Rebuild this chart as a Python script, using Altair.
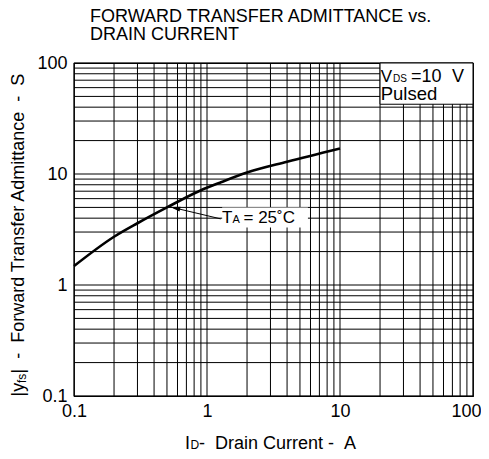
import altair as alt
import pandas as pd

FONT = "Liberation Sans"
NB = "\u00a0"

# Curve values (Id in A, |yfs| in S)
id_a = [0.1, 0.2, 0.3, 0.5, 0.885, 1.25, 2.0, 4.0, 10.0]
yfs_s = [1.48, 2.72, 3.6, 5.0, 7.07, 8.35, 10.3, 12.9, 17.0]

decades = [0.1, 1, 10, 100]
grid_vals = [round(m * d, 3) for d in [0.1, 1, 10] for m in range(1, 10)] + [100]

# annotation geometry (data space)
box_x = [20, 100]
box_y = [42.5, 100]
ta_box_x = [1.3, 5.74]
ta_box_y = [3.3, 4.99]
arrow_x = [1.27, 0.53]
arrow_y = [3.94, 5.05]

W, H = 399, 333
xs = alt.Scale(type="log", domain=[0.1, 100], nice=False)
ys = alt.Scale(type="log", domain=[0.1, 100], nice=False)

x_axis = alt.Axis(values=decades, format="~g", title=None, grid=False, ticks=False,
                  domain=False, labelFont=FONT, labelFontSize=18, labelColor="black",
                  labelPadding=6, labelFlush=False, labelOverlap=False, labelBound=False,
                  labelAlign={"expr": "datum.value >= 100 ? 'right' : 'center'"},
                  labelOffset={"expr": "datum.value >= 100 ? 8 : 0"})
y_axis = alt.Axis(values=decades, format="~g", title=None, grid=False, ticks=False,
                  domain=False, labelFont=FONT, labelFontSize=18, labelColor="black",
                  labelPadding=7, labelFlush=False, labelOverlap=False, labelBound=False)


def X(field):
    return alt.X(field, scale=xs, axis=x_axis)


def Y(field):
    return alt.Y(field, scale=ys, axis=y_axis)


curve_df = pd.DataFrame({"x": id_a, "y": yfs_s})
grid_df = pd.DataFrame({"g": grid_vals})

vgrid = alt.Chart(grid_df).mark_rule(color="black", strokeWidth=1).encode(x=X("g:Q"))
hgrid = alt.Chart(grid_df).mark_rule(color="black", strokeWidth=1).encode(y=Y("g:Q"))

box = alt.Chart(pd.DataFrame({"x1": [box_x[0]], "x2": [box_x[1]],
                              "y1": [box_y[0]], "y2": [box_y[1]]})).mark_rect(
    fill="white", stroke="black", strokeWidth=1).encode(
    x=X("x1:Q"), x2="x2:Q", y=Y("y1:Q"), y2="y2:Q")

ta_box = alt.Chart(pd.DataFrame({"x1": [ta_box_x[0]], "x2": [ta_box_x[1]],
                                 "y1": [ta_box_y[0]], "y2": [ta_box_y[1]]})).mark_rect(
    fill="white", strokeWidth=0).encode(
    x=X("x1:Q"), x2="x2:Q", y=Y("y1:Q"), y2="y2:Q")

curve = alt.Chart(curve_df).mark_line(color="black", strokeWidth=2.6,
                                      interpolate="monotone").encode(
    x=X("x:Q"), y=Y("y:Q"))

arrow_df = pd.DataFrame({"x": arrow_x, "y": arrow_y, "o": [0, 1]})
arrow_line = alt.Chart(arrow_df).mark_line(color="black", strokeWidth=1).encode(
    x=X("x:Q"), y=Y("y:Q"), order="o:O")
arrow_head = alt.Chart(pd.DataFrame({"x": [arrow_x[1]], "y": [arrow_y[1]]})).mark_point(
    shape="M0,0L0.5,2L-0.5,2Z", size=100, angle=283, filled=True, color="black",
    opacity=1).encode(x=X("x:Q"), y=Y("y:Q"))


def txt(s, x, y, size, angle=0):
    return alt.Chart(pd.DataFrame({"t": [s]})).mark_text(
        align="left", baseline="alphabetic", font=FONT, fontSize=size,
        angle=angle, color="black").encode(
        x=alt.value(x), y=alt.value(y), text="t:N")


texts = [
    # title
    txt("FORWARD TRANSFER ADMITTANCE vs.", 16, -41.3, 18),
    txt("DRAIN CURRENT", 16, -22.8, 18),
    # VDS box
    txt("V", 306.7, 18.7, 17),
    txt("DS", 319, 18.7, 10),
    txt("=10", 337, 18.7, 18),
    txt("V", 378, 18.7, 18),
    txt("Pulsed", 306.7, 36.6, 18.5),
    # TA label
    txt("T", 148, 160, 17),
    txt("A", 158.5, 160, 11),
    txt("= 25\u02daC", 169.5, 160, 17),
    # x title
    txt("I", 111, 385.8, 18),
    txt("D", 116.5, 385.8, 12),
    txt("-" + NB + NB + "Drain Current -" + NB + NB + "A", 125, 385.8, 18),
    # y title (rotated)
    txt("|y", -50, 333.4, 18, 270),
    txt("fs", -48, 320, 12, 270),
    txt("|" + NB + NB + "-" + NB + NB + "Forward Transfer Admittance" + NB + NB + "-"
        + NB + NB + "S", -50, 310.5, 18, 270),
]

chart = alt.layer(vgrid, hgrid, box, ta_box, curve, arrow_line, arrow_head, *texts).properties(
    width=W, height=H,
    autosize=alt.AutoSizeParams(type="none"),
    padding={"left": 66, "top": 55, "right": 8, "bottom": 54},
    background="white",
).configure_view(stroke="black", strokeWidth=1.2)

chart.save("out.html", embed_options={"renderer": "svg", "actions": False})
